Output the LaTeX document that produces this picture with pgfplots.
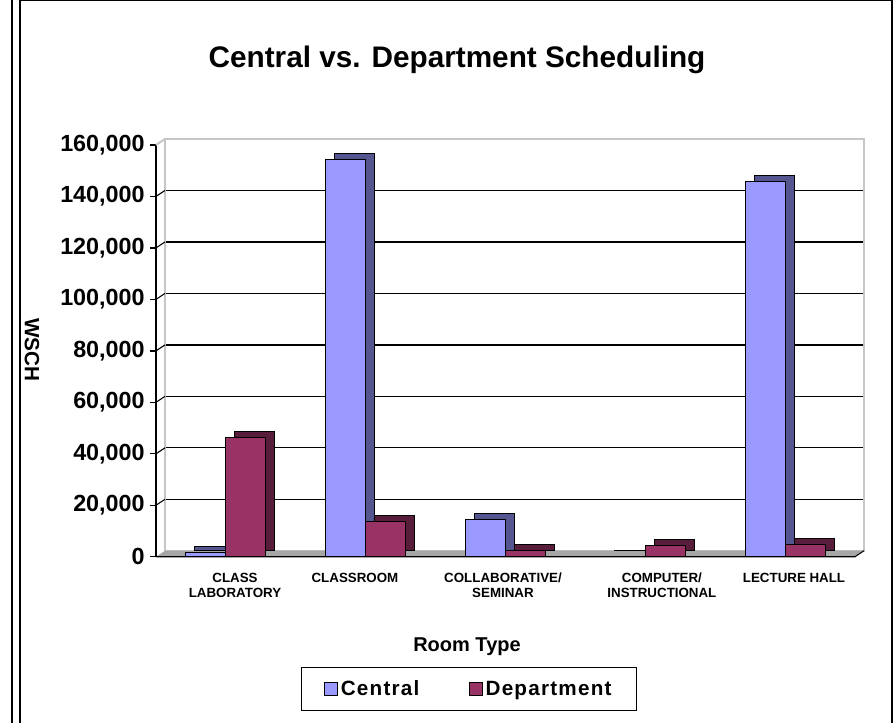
\documentclass[border=0pt]{standalone}
\usepackage{fontspec}
\setmainfont{Liberation Sans}
\usepackage{pgfplots}
\pgfplotsset{compat=1.18}

\definecolor{central}{HTML}{9999FF}
\definecolor{centralside}{HTML}{55558F}
\definecolor{dept}{HTML}{993366}
\definecolor{deptside}{HTML}{581D3B}

\begin{document}
\begin{tikzpicture}
\useasboundingbox (0pt,0pt) rectangle (672pt,542.25pt);
% chart frame
\draw[line width=0.9pt] (9pt,0pt) -- (9pt,542.25pt);
\draw[line width=0.9pt] (15pt,0pt) -- (15pt,541.8pt) -- (669pt,541.8pt) -- (669pt,0pt);

\node[font=\fontsize{22.3}{26}\selectfont\bfseries] at (342.75pt,497.5pt) {Central vs. Department Scheduling};
\node[rotate=-90, font=\fontsize{15.5}{18}\selectfont\bfseries] at (24pt,279.75pt) {WSCH};
\node[font=\fontsize{15}{18}\selectfont\bfseries] at (350.25pt,57pt) {Room Type};

% back wall with gridlines
\begin{axis}[
    at={(123.75pt,129.2pt)}, anchor=south west, scale only axis,
    width=524.25pt, height=308.8pt,
    xmin=-0.5, xmax=4.5, ymin=0, ymax=160000,
    scaled y ticks=false,
    xtick=\empty, ytick={20000,40000,60000,80000,100000,120000,140000},
    yticklabel=\empty,
    major tick length=0pt,
    ymajorgrids, grid style={black, line width=1pt},
    axis line style={draw=gray!45, line width=1.5pt},
]
\end{axis}

% front: bars, ticks, labels
\begin{axis}[
    at={(117pt,124.7pt)}, anchor=south west, scale only axis,
    width=524.25pt, height=308.8pt,
    xmin=-0.5, xmax=4.5, ymin=0, ymax=160000,
    scaled y ticks=false,
    clip=false,
    ybar=0pt, bar width=30pt,
    axis x line*=bottom, axis y line*=left,
    axis line style={line width=1pt},
    x axis line style={draw=none},
    tick align=outside, major tick length=4.5pt,
    % label positions follow the reference (Excel offsets them unevenly)
    xtick={0.065,0.923,1.982,3.119,4.064}, xtick style={draw=none},
    xticklabels={{CLASS\\LABORATORY},CLASSROOM,{COLLABORATIVE/\\SEMINAR},{COMPUTER/\\INSTRUCTIONAL},LECTURE HALL},
    x tick label style={align=center, anchor=north, yshift=-4pt,
        font=\fontsize{10}{11.5}\selectfont\bfseries},
    ytick={0,20000,40000,60000,80000,100000,120000,140000,160000},
    yticklabels={0,{20,000},{40,000},{60,000},{80,000},{100,000},{120,000},{140,000},{160,000}},
    y tick style={black, line width=1pt},
    yticklabel style={font=\fontsize{17.5}{20}\selectfont\bfseries, xshift=-0.5pt},
    legend style={at={(axis description cs:0.448,-0.321)}, anchor=center,
        draw=black, line width=0.8pt, legend columns=2,
        font=\fontsize{15.5}{18}\selectfont\bfseries\addfontfeatures{LetterSpace=6},
        /tikz/every even column/.append style={column sep=35pt},
        inner xsep=17pt, inner ysep=8pt},
    legend image code/.code={\draw[#1, draw=black, line width=0.6pt] (0pt,-5pt) rectangle (10pt,5pt);},
]
% floor
\fill[gray!70] (axis cs:-0.5,0) -- (axis cs:4.5,0) -- ([shift={(6.75pt,4.5pt)}]axis cs:4.5,0) -- ([shift={(6.75pt,4.5pt)}]axis cs:-0.5,0) -- cycle;
\draw[black, line width=0.8pt] (axis cs:-0.5,0) -- (axis cs:4.5,0) -- ([shift={(6.75pt,4.5pt)}]axis cs:4.5,0);
% side wall edge and tick connectors
\draw[gray!45, line width=1.5pt] (axis cs:-0.5,160000) -- ([shift={(6.75pt,4.5pt)}]axis cs:-0.5,160000);
\pgfplotsinvokeforeach{20000,40000,60000,80000,100000,120000,140000}{
  \draw[black, line width=0.8pt] (axis cs:-0.5,#1) -- ([shift={(6.75pt,4.5pt)}]axis cs:-0.5,#1);
}

\addplot[fill=centralside, draw=black, line width=0.8pt, bar shift=-15pt, xshift=6.75pt, yshift=4.5pt, forget plot]
  coordinates {(0,1500) (1,154500) (2,14500) (3,200) (4,145700)};
\addplot[fill=central, draw=black, line width=0.8pt, bar shift=-15pt]
  coordinates {(0,1500) (1,154500) (2,14500) (3,200) (4,145700)};
\addplot[fill=deptside, draw=black, line width=0.8pt, bar shift=15pt, xshift=6.75pt, yshift=4.5pt, forget plot]
  coordinates {(0,46400) (1,13600) (2,2600) (3,4200) (4,4800)};
\addplot[fill=dept, draw=black, line width=0.8pt, bar shift=15pt]
  coordinates {(0,46400) (1,13600) (2,2600) (3,4200) (4,4800)};
\legend{Central,Department}
\end{axis}
\end{tikzpicture}
\end{document}
